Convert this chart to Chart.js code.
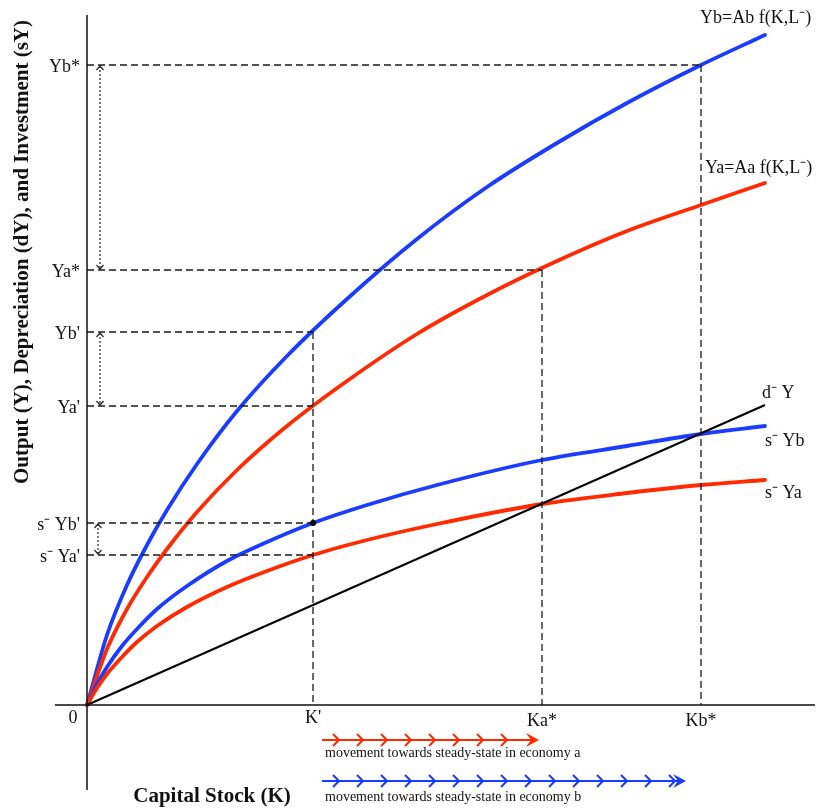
<!DOCTYPE html>
<html>
<head>
<meta charset="utf-8">
<script src="https://cdn.jsdelivr.net/npm/chart.js@4.4.0/dist/chart.umd.min.js"></script>
<style>
  body { margin: 0; background: #fff; }
  #wrap { width: 817px; height: 809px; position: relative; }
</style>
</head>
<body>
<div id="wrap"><canvas id="grafico"></canvas></div>
<script>
/* ============================================================
   DADOS
============================================================ */
const kLabels = ["K'", "Ka*", "Kb*"];
const kValues = [22.6, 45.5, 61.4];

const yLabels = ["Yb*", "Ya*", "Yb'", "Ya'", "s\u207B Yb'", "s\u207B Ya'"];
const yValues = [64.0, 43.5, 37.3, 29.9, 18.2, 15.0];
const yEndK = [61.4, 45.5, 22.6, 22.6, 22.6, 22.6];

// Yb = Ab f(K, L)
const ybK = [0, 2, 4, 6, 8, 11, 15, 20, 26, 33, 40, 47, 54, 61.4, 67.8];
const ybY = [0, 7.0, 12.0, 16.0, 19.5, 24.1, 29.4, 34.9, 40.6, 46.6, 51.8, 56.2, 60.2, 64.0, 67.0];

// Ya = Aa f(K, L)
const yaK = [0, 2, 4, 6, 8, 11, 15, 20, 26, 33, 40, 47, 54, 61.4, 67.8];
const yaY = [0, 5.6, 9.6, 12.8, 15.6, 19.3, 23.5, 27.9, 32.4, 37.1, 41.0, 44.4, 47.4, 50.0, 52.2];

// s Yb
const sybK = [0, 1, 2, 3.5, 5, 7, 10, 14, 18, 22.6, 28, 35, 45.5, 54, 61.4, 67.8];
const sybY = [0, 2.1, 3.8, 5.9, 7.6, 9.6, 11.9, 14.4, 16.3, 18.2, 20.0, 22.0, 24.5, 25.9, 27.1, 27.9];

// s Ya
const syaK = [0, 1, 2, 3.5, 5, 7, 10, 14, 18, 22.6, 28, 35, 45.5, 54, 61.4, 67.8];
const syaY = [0, 1.7, 3.1, 4.8, 6.3, 7.9, 9.8, 11.8, 13.4, 15.0, 16.5, 18.1, 20.1, 21.2, 22.0, 22.5];

// d Y
const dK = [0, 67.8];
const dY = [0, 30.0];

const curveLabels = ["Yb=Ab f(K,L\u207B)", "Ya=Aa f(K,L\u207B)", "d\u207B Y", "s\u207B Yb", "s\u207B Ya"];

const AZUL = "#1a3cff";
const VERMELHO = "#ff2a00";

const pontos = (xs, ys) => xs.map((x, i) => ({ x, y: ys[i] }));

/* ============================================================
   LINHAS TRACEJADAS (guias)
============================================================ */
const guias = [];
yValues.forEach((v, i) => {
  guias.push(pontos([0, yEndK[i]], [v, v]));
});
guias.push(pontos([kValues[0], kValues[0]], [yValues[2], 0]));
guias.push(pontos([kValues[1], kValues[1]], [yValues[1], 0]));
guias.push(pontos([kValues[2], kValues[2]], [yValues[0], 0]));

const datasetsGuias = guias.map((g) => ({
  data: g,
  borderColor: "#1a1a1a",
  borderWidth: 1.3,
  borderDash: [7, 4],
  pointRadius: 0,
  tension: 0,
}));

const curva = (data, cor, largura) => ({
  data,
  borderColor: cor,
  borderWidth: largura,
  pointRadius: 0,
  cubicInterpolationMode: "monotone",
  borderCapStyle: "round",
});

/* ============================================================
   PLUGIN: eixos, rotulos, setas
============================================================ */
const serif = "Liberation Serif, Times New Roman, serif";

function chevron(ctx, x, y, cor) {
  ctx.strokeStyle = cor;
  ctx.lineWidth = 2;
  ctx.beginPath();
  ctx.moveTo(x - 6, y - 6);
  ctx.lineTo(x, y);
  ctx.lineTo(x - 6, y + 6);
  ctx.stroke();
}

function setaMovimento(ctx, x0, x1, y, cor) {
  ctx.strokeStyle = cor;
  ctx.lineWidth = 2.2;
  ctx.beginPath();
  ctx.moveTo(x0, y);
  ctx.lineTo(x1 - 4, y);
  ctx.stroke();
  for (let x = x0 + 17; x < x1 - 10; x += 24) chevron(ctx, x, y, cor);
  ctx.fillStyle = cor;
  ctx.beginPath();
  ctx.moveTo(x1, y);
  ctx.lineTo(x1 - 13, y - 7);
  ctx.lineTo(x1 - 8, y);
  ctx.lineTo(x1 - 13, y + 7);
  ctx.closePath();
  ctx.fill();
}

function setaDupla(ctx, x, y0, y1) {
  ctx.strokeStyle = "#222";
  ctx.lineWidth = 1.2;
  ctx.setLineDash([2, 2]);
  ctx.beginPath();
  ctx.moveTo(x, y0 + 1);
  ctx.lineTo(x, y1 - 1);
  ctx.stroke();
  ctx.setLineDash([]);
  [[y0, 1], [y1, -1]].forEach(([y, s]) => {
    ctx.beginPath();
    ctx.moveTo(x - 3.5, y + 5 * s);
    ctx.lineTo(x, y + 1 * s);
    ctx.lineTo(x + 3.5, y + 5 * s);
    ctx.stroke();
  });
}

const desenhoExtra = {
  id: "desenhoExtra",
  afterDatasetsDraw(chart) {
    const { ctx } = chart;
    const sx = chart.scales.x;
    const sy = chart.scales.y;
    const px = (v) => sx.getPixelForValue(v);
    const py = (v) => sy.getPixelForValue(v);
    ctx.save();

    // eixos
    ctx.strokeStyle = "#111";
    ctx.lineWidth = 1.5;
    ctx.beginPath();
    ctx.moveTo(px(-3.2), py(0));
    ctx.lineTo(px(72.8), py(0));
    ctx.moveTo(px(0), py(69.0));
    ctx.lineTo(px(0), py(-8.5));
    ctx.stroke();

    // ponto em K'
    ctx.fillStyle = "#000";
    ctx.beginPath();
    ctx.arc(px(kValues[0]), py(yValues[4]), 3, 0, Math.PI * 2);
    ctx.fill();

    // rotulos do eixo y
    ctx.font = "18px " + serif;
    ctx.fillStyle = "#111";
    ctx.textAlign = "right";
    ctx.textBaseline = "middle";
    yLabels.forEach((t, i) => ctx.fillText(t, px(-0.7), py(yValues[i]) + 2));

    // rotulos do eixo x
    ctx.textAlign = "center";
    ctx.textBaseline = "top";
    ctx.fillText("0", px(-1.4), py(0) + 4);
    kLabels.forEach((t, i) => ctx.fillText(t, px(kValues[i]), py(0) + (i === 0 ? 4 : 7)));

    // rotulos das curvas
    ctx.textAlign = "left";
    ctx.textBaseline = "middle";
    ctx.fillText(curveLabels[0], px(61.3), py(68.7));
    ctx.fillText(curveLabels[1], px(61.8), py(53.7));
    ctx.fillText(curveLabels[2], px(67.5), py(31.2));
    ctx.fillText(curveLabels[3], px(67.8), py(26.4));
    ctx.fillText(curveLabels[4], px(67.8), py(21.2));

    // setas pontilhadas
    setaDupla(ctx, px(1.3), py(yValues[0]), py(yValues[1]));
    setaDupla(ctx, px(1.3), py(yValues[2]), py(yValues[3]));
    setaDupla(ctx, px(1.1), py(yValues[4]), py(yValues[5]));

    // movimento ate o estado estacionario
    const xIni = px(kValues[0]) + 9;
    setaMovimento(ctx, xIni, px(45.2), py(-3.5), VERMELHO);
    setaMovimento(ctx, xIni, px(59.9), py(-7.6), AZUL);
    ctx.fillStyle = "#111";
    ctx.font = "14px " + serif;
    ctx.textAlign = "left";
    ctx.fillText("movement towards steady-state in economy a", xIni + 3, py(-4.8));
    ctx.fillText("movement towards steady-state in economy b", xIni + 3, py(-9.2));

    // titulos
    ctx.font = "bold 21px " + serif;
    ctx.textAlign = "center";
    ctx.fillText("Capital Stock (K)", px(12.5), py(-9.2));
    ctx.save();
    ctx.translate(px(-6.4), py(45.3));
    ctx.rotate(-Math.PI / 2);
    ctx.fillText("Output (Y), Depreciation (dY), and Investment (sY)", 0, 0);
    ctx.restore();

    ctx.restore();
  },
};

/* ============================================================
   GRAFICO
============================================================ */
new Chart(document.getElementById("grafico"), {
  type: "line",
  data: {
    datasets: [
      ...datasetsGuias,
      { data: pontos(dK, dY), borderColor: "#000", borderWidth: 2, pointRadius: 0, tension: 0 },
      curva(pontos(syaK, syaY), VERMELHO, 3.8),
      curva(pontos(sybK, sybY), AZUL, 3.8),
      curva(pontos(yaK, yaY), VERMELHO, 3.8),
      curva(pontos(ybK, ybY), AZUL, 3.8),
    ],
  },
  options: {
    responsive: true,
    maintainAspectRatio: false,
    animation: false,
    layout: { padding: 0 },
    plugins: { legend: { display: false }, tooltip: { enabled: false } },
    scales: {
      x: { type: "linear", min: -8.7, max: 73.0, display: false },
      y: { type: "linear", min: -10.4, max: 70.5, display: false },
    },
  },
  plugins: [desenhoExtra],
});
</script>
</body>
</html>
